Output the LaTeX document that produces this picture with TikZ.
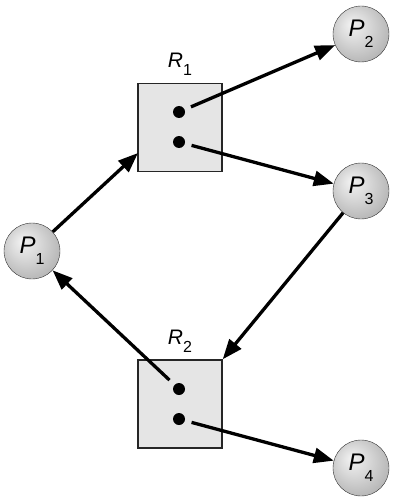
\documentclass[tikz,border=0pt]{standalone}
\usepackage{fontspec}
\setmainfont{Liberation Sans}
\usepackage{tikz}
\usetikzlibrary{arrows.meta,positioning}

\pgfdeclareradialshading{sphere}{\pgfpoint{-9bp}{9bp}}{%
  color(0bp)=(black!5); color(12bp)=(black!14); color(34bp)=(black!32);
  color(46bp)=(black!45); color(50bp)=(black!50)}

\newcommand{\plbl}[2]{\textit{#1}\raisebox{-11pt}{\fontsize{16}{16}\selectfont #2}}
\newcommand{\rlbl}[2]{\textit{#1}\raisebox{-8pt}{\fontsize{16}{16}\selectfont #2}}

\begin{document}
\begin{tikzpicture}[
    x=1pt, y=-1pt,
    proc/.style={
        circle,
        draw=black!80,
        thin,
        shading=sphere,
        minimum size=56pt,
        inner sep=0pt,
        font=\fontsize{24}{24}\selectfont
    },
    res/.style={
        draw=black!85,
        line width=1.4pt,
        fill=black!10,
        minimum width=84pt,
        minimum height=88pt,
        inner sep=0pt
    },
    dot/.style={
        circle,
        fill=black,
        minimum size=12pt,
        inner sep=0pt,
        outer sep=7pt
    },
    tag/.style={
        inner sep=0pt,
        font=\fontsize{21}{21}\selectfont
    },
    arr/.style={-{Triangle[length=20pt,width=15pt]}, line width=3.3pt}
]
\useasboundingbox (0,0) rectangle (409,500);

% resources
\node[res] (R1) at (180,127.5) {};
\node[res] (R2) at (180,404) {};
\node[tag, above=7pt of R1] (lR1) {\rlbl{R}{1}};
\node[tag, above=7pt of R2] (lR2) {\rlbl{R}{2}};

\node[dot] (d11) at (179,112) {};
\node[dot] (d12) at (179,142) {};
\node[dot] (d21) at (179,389) {};
\node[dot] (d22) at (179,419) {};

% processes
\node[proc] (P1) at (32,251) {\plbl{P}{1}};
\node[proc] (P2) at (361,34) {\plbl{P}{2}};
\node[proc] (P3) at (361,191) {\plbl{P}{3}};
\node[proc] (P4) at (361,468) {\plbl{P}{4}};

\coordinate (r1in) at (138,153);

\draw[arr] (P1) -- (r1in);
\draw[arr] (d11) -- (P2);
\draw[arr] (d12) -- (P3);
\draw[arr] (P3) -- (R2.north east);
\draw[arr] (d21) -- (P1);
\draw[arr] (d22) -- (P4);

\end{tikzpicture}
\end{document}
